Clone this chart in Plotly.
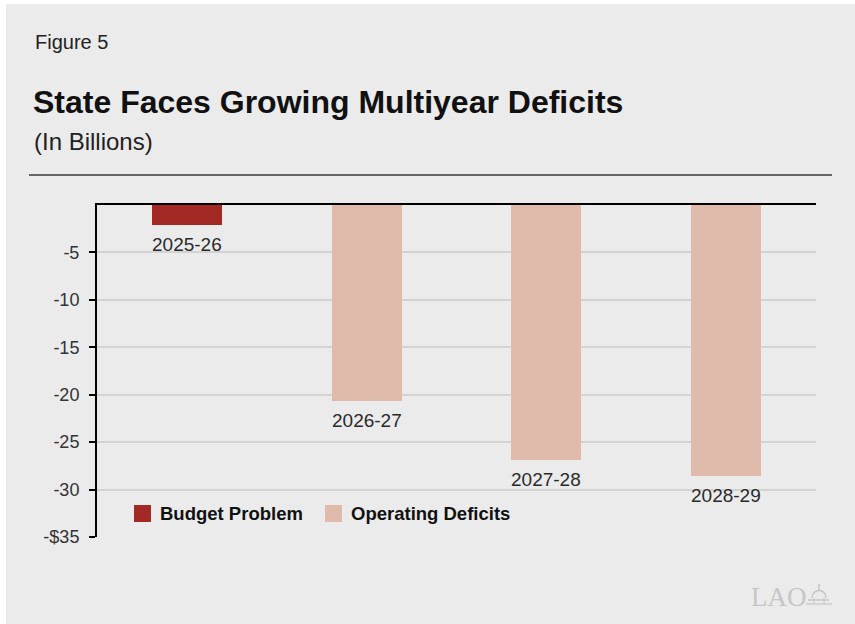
import plotly.graph_objects as go

# Fiscal years and deficit amounts (billions of dollars)
years = ["2025-26", "2026-27", "2027-28", "2028-29"]
budget_problem_years = ["2025-26"]
budget_problem_values = [-2.1]
operating_years = ["2026-27", "2027-28", "2028-29"]
operating_values = [-20.7, -26.9, -28.6]

tick_values = [-35, -30, -25, -20, -15, -10, -5]
tick_labels = ["-$35", "-30", "-25", "-20", "-15", "-10", "-5"]

RED = "#A32A24"
PINK = "#E0BBAC"
BG = "#EBEBEB"
LOGO = "#C6C6C6"
FONT = "Liberation Sans, Arial, Helvetica, sans-serif"

W, H = 855, 624
ML, MR, MT, MB = 97, 39, 205, 87
PW, PH = W - ML - MR, H - MT - MB


def px(x):
    return (x - ML) / PW


def py(y):
    return (H - MB - y) / PH


fig = go.Figure()
fig.add_trace(go.Bar(x=budget_problem_years, y=budget_problem_values,
                     marker=dict(color=RED, line=dict(width=0)),
                     width=0.39, name="Budget Problem", showlegend=False))
fig.add_trace(go.Bar(x=operating_years, y=operating_values,
                     marker=dict(color=PINK, line=dict(width=0)),
                     width=0.39, name="Operating Deficits", showlegend=False))

annotations = []
# year labels below each bar end
for xs, ys in ((budget_problem_years, budget_problem_values),
               (operating_years, operating_values)):
    for x, y in zip(xs, ys):
        annotations.append(dict(x=x, y=y, xref="x", yref="y", text=x,
                                showarrow=False, yanchor="top", yshift=-7,
                                font=dict(family=FONT, size=19, color="#2a2a2a")))

# header text
annotations += [
    dict(x=px(33), y=py(42), xref="paper", yref="paper", text="Figure 5",
         showarrow=False, xanchor="left", yanchor="middle",
         font=dict(family=FONT, size=20, color="#222222")),
    dict(x=px(31), y=py(102), xref="paper", yref="paper",
         text="<b>State Faces Growing Multiyear Deficits</b>",
         showarrow=False, xanchor="left", yanchor="middle",
         font=dict(family=FONT, size=32, color="#111111")),
    dict(x=px(32), y=py(141), xref="paper", yref="paper", text="(In Billions)",
         showarrow=False, xanchor="left", yanchor="middle",
         font=dict(family=FONT, size=24, color="#222222")),
    # legend labels
    dict(x=px(158), y=py(513), xref="paper", yref="paper", text="<b>Budget Problem</b>",
         showarrow=False, xanchor="left", yanchor="middle",
         font=dict(family=FONT, size=18.5, color="#111111")),
    dict(x=px(349), y=py(513), xref="paper", yref="paper", text="<b>Operating Deficits</b>",
         showarrow=False, xanchor="left", yanchor="middle",
         font=dict(family=FONT, size=18.5, color="#111111")),
    # logo wordmark
    dict(x=px(809), y=py(597), xref="paper", yref="paper", text="LAO",
         showarrow=False, xanchor="right", yanchor="middle",
         font=dict(family="Liberation Serif, Times New Roman, serif", size=27, color=LOGO)),
]

shapes = [
    # white margin strips
    dict(type="rect", xref="paper", yref="paper", x0=px(0), x1=px(6), y0=py(H), y1=py(0),
         fillcolor="white", line=dict(width=0)),
    dict(type="rect", xref="paper", yref="paper", x0=px(0), x1=px(W), y0=py(4), y1=py(0),
         fillcolor="white", line=dict(width=0)),
    # rule below the header
    dict(type="line", xref="paper", yref="paper", x0=px(29), x1=px(832), y0=py(175), y1=py(175),
         line=dict(color="#3a3a3a", width=1.5)),
    # legend swatches
    dict(type="rect", xref="paper", yref="paper", x0=px(134), x1=px(151), y0=py(522), y1=py(505),
         fillcolor=RED, line=dict(width=0)),
    dict(type="rect", xref="paper", yref="paper", x0=px(325), x1=px(342), y0=py(522), y1=py(505),
         fillcolor=PINK, line=dict(width=0)),
    # small dome emblem next to the wordmark
    dict(type="path", xref="paper", yref="paper",
         path=(f"M{px(812)},{py(598)} C{px(812)},{py(588)} {px(826)},{py(588)} {px(826)},{py(598)}"),
         line=dict(color=LOGO, width=1.5)),
    dict(type="line", xref="paper", yref="paper", x0=px(819), x1=px(819), y0=py(590), y1=py(584),
         line=dict(color=LOGO, width=1.5)),
    dict(type="line", xref="paper", yref="paper", x0=px(808), x1=px(829), y0=py(600), y1=py(600),
         line=dict(color=LOGO, width=1.5)),
    dict(type="line", xref="paper", yref="paper", x0=px(806), x1=px(832), y0=py(604), y1=py(604),
         line=dict(color=LOGO, width=1.2)),
    dict(type="line", xref="paper", yref="paper", x0=px(814), x1=px(814), y0=py(598), y1=py(604),
         line=dict(color=LOGO, width=1)),
    dict(type="line", xref="paper", yref="paper", x0=px(824), x1=px(824), y0=py(598), y1=py(604),
         line=dict(color=LOGO, width=1)),
]

fig.update_layout(
    width=W, height=H,
    margin=dict(l=ML, r=MR, t=MT, b=MB, pad=0),
    paper_bgcolor=BG, plot_bgcolor=BG,
    barmode="overlay", bargap=0,
    showlegend=False,
    annotations=annotations, shapes=shapes,
    font=dict(family=FONT, size=18, color="#333333"),
)
fig.update_xaxes(type="category", categoryorder="array", categoryarray=years,
                 range=[-0.5, 3.5], side="top", showline=True, linecolor="black",
                 linewidth=2, showticklabels=False, ticks="", showgrid=False,
                 zeroline=False, fixedrange=True)
fig.update_yaxes(range=[-35, 0], tickvals=tick_values, ticktext=tick_labels,
                 showline=True, linecolor="black", linewidth=2,
                 ticks="outside", ticklen=6, tickwidth=2, tickcolor="black",
                 ticklabelstandoff=6,
                 showgrid=True, gridcolor="#D3D3D3", gridwidth=1.5,
                 zeroline=False, fixedrange=True,
                 tickfont=dict(family=FONT, size=18, color="#333333"))

fig.write_html("out.html")
